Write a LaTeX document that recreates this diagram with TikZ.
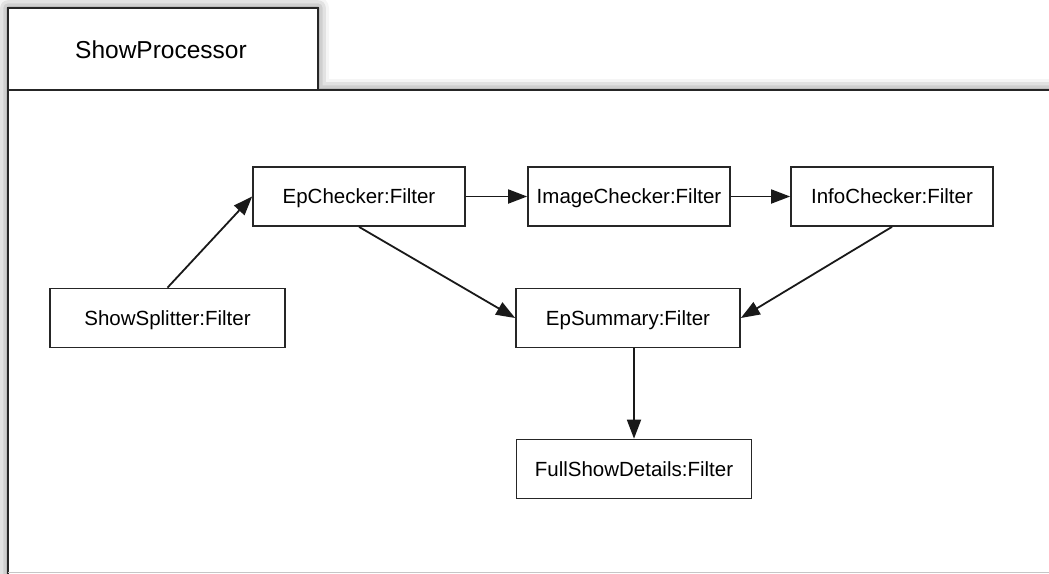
\documentclass[tikz,border=0pt]{standalone}
\usepackage{fontspec}
\setmainfont{Liberation Sans}
\usetikzlibrary{arrows.meta,shadows.blur}
\begin{document}
\begin{tikzpicture}[x=1pt,y=-1pt,
  frameline/.style={line width=1.8pt,draw=black!85},
  filterbox/.style={draw=black!85,line width=1.7pt,fill=white,inner sep=0pt,
    minimum height=59pt,text height=15pt,text depth=1pt,
    font=\fontsize{20.5}{24}\selectfont},
  flow/.style={line width=1.8pt,draw=black!90,-{Triangle[length=19pt,width=14pt]}}
]
\useasboundingbox (0,0) rectangle (1049,573);
% component frame with its name tab
\path[fill=white,blur shadow={shadow xshift=0pt,shadow yshift=0pt,
      shadow blur radius=11pt,shadow opacity=60}]
  (8,8) -- (318,8) -- (318,90) -- (1080,90) -- (1080,610) -- (8,610) -- cycle;
\draw[frameline] (8,8) rectangle (318,90);
\draw[frameline] (8,610) -- (8,90) -- (1080,90);
\draw[gray!45,line width=1pt] (8,572.5) -- (1049,572.5);
\node[font=\fontsize{24.5}{28}\selectfont] (title) at (161,50) {ShowProcessor};
% filters
\node[filterbox,minimum width=235pt] (ss)  at (167.5,318) {ShowSplitter:Filter};
\node[filterbox,minimum width=212pt] (ep)  at (359,196.5) {EpChecker:Filter};
\node[filterbox,minimum width=202pt] (ic)  at (629,196.5) {ImageChecker:Filter};
\node[filterbox,minimum width=202pt] (inf) at (892,196.5) {InfoChecker:Filter};
\node[filterbox,minimum width=224pt] (es)  at (628,318) {EpSummary:Filter};
\node[filterbox,minimum width=235pt] (fsd) at (634,469) {FullShowDetails:Filter};
% connections
\draw[flow] (ss.north) -- (ep.west);
\draw[flow] (ep.east) -- (ic.west);
\draw[flow] (ic.east) -- (inf.west);
\draw[flow] (ep.south) -- (es.west);
\draw[flow] (inf.south) -- (es.east);
\draw[flow] (es.south -| fsd.north) -- (fsd.north);
\end{tikzpicture}
\end{document}
